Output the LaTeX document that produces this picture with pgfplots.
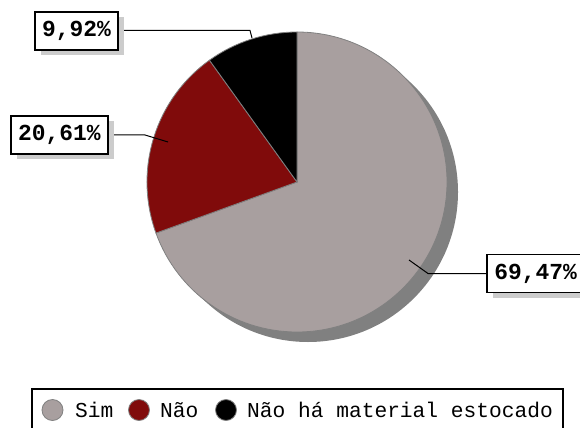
\documentclass[border=0pt]{standalone}
\usepackage{pgfplots}
\pgfplotsset{compat=1.18}
\usepackage{fontspec}
\setmainfont{Liberation Mono}

\definecolor{simcol}{RGB}{168,159,159}
\definecolor{naocol}{RGB}{128,11,11}
\definecolor{piesh}{RGB}{128,128,128}
\definecolor{boxsh}{RGB}{204,204,204}

% shares (percent)
\def\vSim{69.47}
\def\vNao{20.61}
\def\vNone{9.92}

\begin{document}
\begin{tikzpicture}[x=1bp,y=1bp,
    lbl/.style={draw=black, fill=white, line width=1.2bp, minimum width=#1, minimum height=38bp,
      inner sep=0pt, font=\fontsize{23}{23}\bfseries\selectfont},
    lblsh/.style={fill=boxsh, minimum width=#1, minimum height=38bp, inner sep=0pt},
    leg/.style={anchor=base west, inner sep=0pt, font=\fontsize{21.3}{21.3}\selectfont}]
  \path[use as bounding box] (0,0) rectangle (580,427);
  \clip (0,0) rectangle (580,427);

  % slice angles, clockwise from 12 o'clock
  \pgfmathsetmacro{\aA}{90}
  \pgfmathsetmacro{\aB}{\aA-3.6*\vSim}
  \pgfmathsetmacro{\aC}{\aB-3.6*\vNao}
  \pgfmathsetmacro{\aD}{\aC-3.6*\vNone}
  \def\cx{297}\def\cy{245}\def\R{150}

  \begin{axis}[at={(0,0)}, anchor=south west, scale only axis,
      width=580bp, height=427bp,
      xmin=0, xmax=580, ymin=0, ymax=427,
      hide axis, clip=false]

    % pie shadow
    \fill[piesh] (\cx+11,\cy-10) circle[radius=\R bp];

    % slices
    \filldraw[fill=simcol, draw=gray, line width=0.8bp]
      (\cx,\cy) -- ++(\aA:\R bp) arc[start angle=\aA, end angle=\aB, radius=\R bp] -- cycle;
    \filldraw[fill=naocol, draw=gray, line width=0.8bp]
      (\cx,\cy) -- ++(\aB:\R bp) arc[start angle=\aB, end angle=\aC, radius=\R bp] -- cycle;
    \filldraw[fill=black, draw=gray, line width=0.8bp]
      (\cx,\cy) -- ++(\aC:\R bp) arc[start angle=\aC, end angle=\aD, radius=\R bp] -- cycle;

    % leader lines
    \draw[line width=1bp] (118,396.5) -- (250,396.5) -- (252,389);
    \draw[line width=1bp] (108,292) -- (145,292) -- (168,285);
    \draw[line width=1bp] (487,153.5) -- (428,153.5) -- (409,167);

    % value labels
    \node[lblsh=83bp] at (82.5,391) {};
    \node[lbl=83bp] at (76.5,396) {9,92\%};
    \node[lblsh=97bp] at (65.5,287) {};
    \node[lbl=97bp] at (59.5,292) {20,61\%};
    \node[lblsh=97bp] at (541.5,148.5) {};
    \node[lbl=97bp] at (535.5,153.5) {69,47\%};

    % legend
    \filldraw[fill=white, line width=2bp] (32,-10) -- (32,38) -- (563,38) -- (563,-10);
    \filldraw[fill=simcol, draw=gray, line width=0.8bp] (52.5,17) circle[radius=10.5bp];
    \node[leg] at (75,10) {Sim};
    \filldraw[fill=naocol, draw=gray, line width=0.8bp] (139,17) circle[radius=10.5bp];
    \node[leg] at (160,10) {Não};
    \filldraw[fill=black, draw=gray, line width=0.8bp] (226,17) circle[radius=10.5bp];
    \node[leg] at (247,10) {Não há material estocado};
  \end{axis}
\end{tikzpicture}
\end{document}
